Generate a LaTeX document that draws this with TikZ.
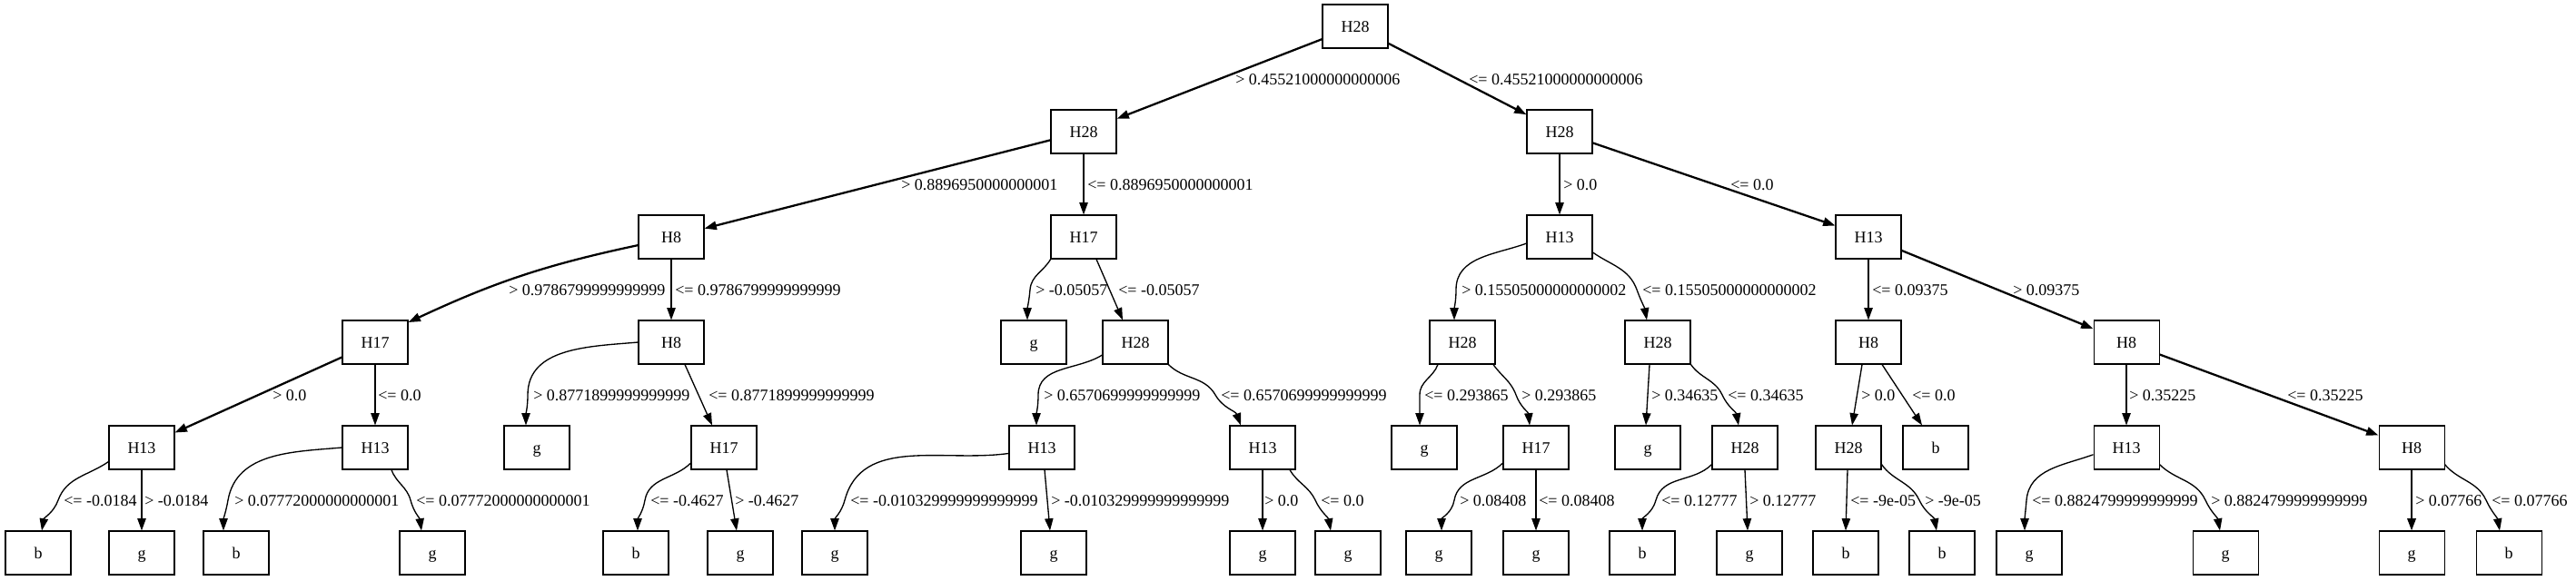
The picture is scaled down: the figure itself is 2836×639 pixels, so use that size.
\documentclass[tikz,border=0pt]{standalone}
\usepackage{fontspec}
\setmainfont{Liberation Serif}
\usetikzlibrary{arrows.meta,calc}
\begin{document}
\begin{tikzpicture}[x=0.75pt,y=0.75pt,
  box/.style={draw, rectangle, minimum width=54pt, minimum height=36pt, inner sep=0pt, line width=0.8pt, font=\fontsize{13.5}{16}\selectfont, text height=9pt, text depth=0pt},
  lbl/.style={anchor=west, inner sep=0pt, font=\fontsize{13.5}{16}\selectfont, text height=9pt, text depth=0pt},
  edge/.style={-{Triangle[length=10pt,width=7pt]}, line width=1pt},
  bold/.style={line width=1.7pt},
]
\useasboundingbox (0,0) rectangle (2836,-639);
% level 0
\node[box] (r) at (1492,-29) {H28};
% level 1
\node[box] (a) at (1193,-145) {H28};
\node[box] (b) at (1717,-145) {H28};
% level 2
\node[box] (aa) at (739,-261) {H8};
\node[box] (ab) at (1193,-261) {H17};
\node[box] (ba) at (1717,-261) {H13};
\node[box] (bb) at (2057,-261) {H13};
% level 3
\node[box] (aaa) at (413,-377) {H17};
\node[box] (aab) at (739,-377) {H8};
\node[box] (aba) at (1138,-377) {g};
\node[box] (abb) at (1250,-377) {H28};
\node[box] (baa) at (1610,-377) {H28};
\node[box] (bab) at (1825,-377) {H28};
\node[box] (bba) at (2057,-377) {H8};
\node[box] (bbb) at (2341,-377) {H8};
% level 4
\node[box] (n1) at (156,-493) {H13};
\node[box] (n2) at (413,-493) {H13};
\node[box] (n3) at (591,-493) {g};
\node[box] (n4) at (797,-493) {H17};
\node[box] (n5) at (1147,-493) {H13};
\node[box] (n6) at (1390,-493) {H13};
\node[box] (n7) at (1568,-493) {g};
\node[box] (n8) at (1691,-493) {H17};
\node[box] (n9) at (1814,-493) {g};
\node[box] (n10) at (1921,-493) {H28};
\node[box] (n11) at (2035,-493) {H28};
\node[box] (n12) at (2131,-493) {b};
\node[box] (n13) at (2341,-493) {H13};
\node[box] (n14) at (2655,-493) {H8};
% level 5
\node[box] (m1) at (42,-609) {b};
\node[box] (m2) at (156,-609) {g};
\node[box] (m3) at (260,-609) {b};
\node[box] (m4) at (476,-609) {g};
\node[box] (m5) at (700,-609) {b};
\node[box] (m6) at (815,-609) {g};
\node[box] (m7) at (919,-609) {g};
\node[box] (m8) at (1160,-609) {g};
\node[box] (m9) at (1390,-609) {g};
\node[box] (m10) at (1484,-609) {g};
\node[box] (m11) at (1584,-609) {g};
\node[box] (m12) at (1691,-609) {g};
\node[box] (m13) at (1808,-609) {b};
\node[box] (m14) at (1926,-609) {g};
\node[box] (m15) at (2032,-609) {b};
\node[box] (m16) at (2138,-609) {b};
\node[box] (m17) at (2234,-609) {g};
\node[box] (m18) at (2450,-609) {g};
\node[box] (m19) at (2655,-609) {g};
\node[box] (m20) at (2762,-609) {b};
% pass points of the curved edges
\coordinate (p9) at (1134,-319);
\coordinate (p11) at (1603,-319);
\coordinate (p12) at (1802,-319);
\coordinate (p17) at (581,-435);
\coordinate (p19) at (1143,-435);
\coordinate (p20) at (1338,-435);
\coordinate (p21) at (1563,-435);
\coordinate (p22) at (1669,-435);
\coordinate (p24) at (1896,-435);
\coordinate (p29) at (64,-551);
\coordinate (p31) at (251,-551);
\coordinate (p32) at (452,-551);
\coordinate (p33) at (710,-551);
\coordinate (p35) at (930,-551);
\coordinate (p38) at (1448,-551);
\coordinate (p39) at (1601,-551);
\coordinate (p41) at (1823,-551);
\coordinate (p44) at (2113,-551);
\coordinate (p45) at (2231,-551);
\coordinate (p46) at (2428,-551);
\coordinate (p48) at (2737,-551);
% edges
\draw[edge,bold] (r) -- (a);
\draw[edge,bold] (r) -- (b);
\draw[edge,bold] (a) -- (aa);
\draw[edge] (a) -- (ab);
\draw[edge] (b) -- (ba);
\draw[edge,bold] (b) -- (bb);
\draw[edge,bold] (aa.194) to[out=192,in=25] (aaa.31);
\draw[edge] (aa) -- (aab);
\draw[edge] (ab.214) to[out=240,in=85] (p9) to[out=265,in=90] ($(aba.north)+(-7,0)$);
\draw[edge] ($(ab.south)+(14,0)$) -- ($(abb.north)+(-14,0)$);
\draw[edge] (ba.191) to[out=200,in=90] (p11) to[out=-90,in=90] ($(baa.north)+(-9,0)$);
\draw[edge] (ba.335) to[out=-35,in=110] (p12) to[out=-70,in=100] ($(bab.north)+(-12,0)$);
\draw[edge] (bb) -- (bba);
\draw[edge,bold] (bb) -- (bbb);
\draw[edge,bold] (aaa) -- (n1);
\draw[edge] (aaa) -- (n2);
\draw[edge] (aab.west) to[out=185,in=90] (p17) to[out=-90,in=90] ($(n3.north)+(-12,0)$);
\draw[edge] ($(aab.south)+(15,0)$) -- ($(n4.north)+(-13,0)$);
\draw[edge] (abb.201) to[out=212,in=90] (p19) to[out=-90,in=90] ($(n5.north)+(-6,0)$);
\draw[edge] (abb.326) to[out=-45,in=120] (p20) to[out=-60,in=110] ($(n6.north)+(-24,0)$);
\draw[edge] ($(baa.south)+(-27,0)$) to[out=-110,in=90] (p21) to[out=-90,in=90] ($(n7.north)+(-5,0)$);
\draw[edge] ($(baa.south)+(34,0)$) to[out=-55,in=110] (p22) to[out=-70,in=95] ($(n8.north)+(-7,0)$);
\draw[edge] ($(bab.south)+(-9,0)$) -- ($(n9.north)+(-2,0)$);
\draw[edge] (bab.south east) to[out=-55,in=115] (p24) to[out=-65,in=100] ($(n10.north)+(-7,0)$);
\draw[edge] ($(bba.south)+(-7,0)$) -- ($(n11.north)+(4,0)$);
\draw[edge] ($(bba.south)+(15,0)$) -- ($(n12.north)+(-15,0)$);
\draw[edge] (bbb) -- (n13);
\draw[edge,bold] (bbb) -- (n14);
\draw[edge] (n1.203) to[out=215,in=70] (p29) to[out=250,in=80] ($(m1.north)+(4,0)$);
\draw[edge] (n1) -- (m2);
\draw[edge] (n2.west) to[out=185,in=80] (p31) to[out=260,in=90] ($(m3.north)+(-14,0)$);
\draw[edge] ($(n2.south)+(18,0)$) to[out=-70,in=105] (p32) to[out=-75,in=98] ($(m4.north)+(-12,0)$);
\draw[edge] (n4.205) to[out=225,in=80] (p33) to[out=260,in=90] ($(m5.north)+(2,0)$);
\draw[edge] ($(n4.south)+(3,0)$) -- ($(m6.north)+(-4,0)$);
\draw[edge] (n5.190) to[out=188,in=75] (p35) to[out=255,in=90] (m7.north);
\draw[edge] ($(n5.south)+(3,0)$) -- ($(m8.north)+(-4,0)$);
\draw[edge] (n6) -- (m9);
\draw[edge] ($(n6.south)+(30,0)$) to[out=-60,in=115] (p38) to[out=-65,in=100] ($(m10.north)+(-19,0)$);
\draw[edge] (n8.205) to[out=225,in=80] (p39) to[out=260,in=90] ($(m11.north)+(3,0)$);
\draw[edge] (n8) -- (m12);
\draw[edge] (n10.207) to[out=225,in=75] (p41) to[out=255,in=90] (m13.north);
\draw[edge] (n10.south) -- ($(m14.north)+(-2,0)$);
\draw[edge] ($(n11.south)+(-1,0)$) -- (m15.north);
\draw[edge] (n11.333) to[out=-55,in=115] (p44) to[out=-65,in=100] ($(m16.north)+(-6,0)$);
\draw[edge] (n13.192) to[out=200,in=85] (p45) to[out=265,in=90] ($(m17.north)+(-5,0)$);
\draw[edge] (n13.333) to[out=-45,in=115] (p46) to[out=-65,in=100] ($(m18.north)+(-6,0)$);
\draw[edge,bold] (n14) -- (m19);
\draw[edge] (n14.333) to[out=-50,in=115] (p48) to[out=-65,in=100] ($(m20.north)+(-10,0)$);
% labels
\node[lbl] (l1) at (1360,-87) {> 0.45521000000000006};
\node[lbl] (l2) at (1617,-87) {<= 0.45521000000000006};
\node[lbl] (l3) at (992,-203) {> 0.8896950000000001};
\node[lbl] (l4) at (1197,-203) {<= 0.8896950000000001};
\node[lbl] (l5) at (1721,-203) {> 0.0};
\node[lbl] (l6) at (1905,-203) {<= 0.0};
\node[lbl] (l7) at (560,-319) {> 0.9786799999999999};
\node[lbl] (l8) at (743,-319) {<= 0.9786799999999999};
\node[lbl] (l9) at (1140,-319) {> -0.05057};
\node[lbl] (l10) at (1231,-319) {<= -0.05057};
\node[lbl] (l11) at (1609,-319) {> 0.15505000000000002};
\node[lbl] (l12) at (1808,-319) {<= 0.15505000000000002};
\node[lbl] (l13) at (2061,-319) {<= 0.09375};
\node[lbl] (l14) at (2216,-319) {> 0.09375};
\node[lbl] (l15) at (300,-435) {> 0.0};
\node[lbl] (l16) at (416,-435) {<= 0.0};
\node[lbl] (l17) at (587,-435) {> 0.8771899999999999};
\node[lbl] (l18) at (780,-435) {<= 0.8771899999999999};
\node[lbl] (l19) at (1149,-435) {> 0.6570699999999999};
\node[lbl] (l20) at (1344,-435) {<= 0.6570699999999999};
\node[lbl] (l21) at (1568,-435) {<= 0.293865};
\node[lbl] (l22) at (1675,-435) {> 0.293865};
\node[lbl] (l23) at (1818,-435) {> 0.34635};
\node[lbl] (l24) at (1902,-435) {<= 0.34635};
\node[lbl] (l25) at (2049,-435) {> 0.0};
\node[lbl] (l26) at (2105,-435) {<= 0.0};
\node[lbl] (l27) at (2344,-435) {> 0.35225};
\node[lbl] (l28) at (2518,-435) {<= 0.35225};
\node[lbl] (l29) at (70,-551) {<= -0.0184};
\node[lbl] (l30) at (159,-551) {> -0.0184};
\node[lbl] (l31) at (258,-551) {> 0.07772000000000001};
\node[lbl] (l32) at (458,-551) {<= 0.07772000000000001};
\node[lbl] (l33) at (716,-551) {<= -0.4627};
\node[lbl] (l34) at (809,-551) {> -0.4627};
\node[lbl] (l35) at (936,-551) {<= -0.010329999999999999};
\node[lbl] (l36) at (1157,-551) {> -0.010329999999999999};
\node[lbl] (l37) at (1392,-551) {> 0.0};
\node[lbl] (l38) at (1454,-551) {<= 0.0};
\node[lbl] (l39) at (1607,-551) {> 0.08408};
\node[lbl] (l40) at (1694,-551) {<= 0.08408};
\node[lbl] (l41) at (1829,-551) {<= 0.12777};
\node[lbl] (l42) at (1926,-551) {> 0.12777};
\node[lbl] (l43) at (2037,-551) {<= -9e-05};
\node[lbl] (l44) at (2119,-551) {> -9e-05};
\node[lbl] (l45) at (2237,-551) {<= 0.8824799999999999};
\node[lbl] (l46) at (2434,-551) {> 0.8824799999999999};
\node[lbl] (l47) at (2659,-551) {> 0.07766};
\node[lbl] (l48) at (2743,-551) {<= 0.07766};
\end{tikzpicture}
\end{document}
